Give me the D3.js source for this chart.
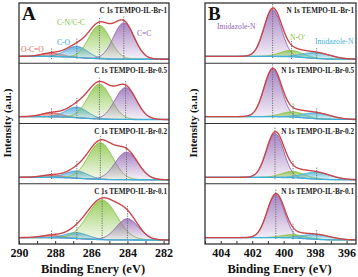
<!DOCTYPE html>
<html>
  <head>
    <meta charset="utf-8">
    <title>XPS C 1s / N 1s</title>
    <style>
      body{margin:0;background:#fff;}
      svg{font-family:"Liberation Serif","Times New Roman",serif;}
    </style>
    <script src="https://d3js.org/d3.v7.min.js"></script>
  </head>
  <body>
    <script>

        // ---- data ----
        // C 1s panel: four samples, four fitted components each
        var cTitles  = ["C 1s TEMPO-IL-Br-1", "C 1s TEMPO-IL-Br-0.5", "C 1s TEMPO-IL-Br-0.2", "C 1s TEMPO-IL-Br-0.1"];
        var cNames   = ["O-C=O", "C-O", "C-N/C-C", "C=C"];
        var cCenters = [[288.2, 286.8, 285.55, 284.2], [288.2, 286.8, 285.55, 284.1], [288.2, 286.8, 285.5, 284.05], [288.2, 286.8, 285.4, 284.0]];
        var cHeights = [[0.07, 0.23, 0.69, 0.75], [0.08, 0.22, 0.72, 0.66], [0.05, 0.15, 0.76, 0.57], [0.05, 0.12, 0.82, 0.44]];
        var cFwhm    = [[1.3, 1.4, 1.4, 1.35], [1.3, 1.4, 1.5, 1.4], [1.3, 1.4, 1.6, 1.5], [1.3, 1.5, 1.9, 1.45]];
        var cBackground = [0.06, 0.06, 0.05, 0.05];
        var cTicks = [290, 288, 286, 284, 282];

        // N 1s panel: four samples, three fitted components each
        var nTitles  = ["N 1s TEMPO-IL-Br-1", "N 1s TEMPO-IL-Br-0.5", "N 1s TEMPO-IL-Br-0.2", "N 1s TEMPO-IL-Br-0.1"];
        var nNames   = ["Imidazole-N+", "N-O\u2022", "Imidazole-N"];
        var nCenters = [[400.7, 399.5, 397.9], [400.7, 399.4, 397.9], [400.55, 399.4, 397.9], [400.5, 399.4, 397.9]];
        var nHeights = [[0.97, 0.13, 0.12], [0.98, 0.11, 0.12], [0.91, 0.13, 0.14], [0.89, 0.07, 0.1]];
        var nFwhm    = [[1.3, 1.7, 2.1], [1.3, 1.7, 2.1], [1.3, 1.7, 2.1], [1.3, 1.7, 2.1]];
        var nBackground = [0.06, 0.06, 0.05, 0.05];
        var nTicks = [404, 402, 400, 398, 396];

        // ---- styles ----
        var cColors = ["#e06a5c", "#3d9fd8", "#84c23c", "#9266b4"];
        var nColors = ["#9266b4", "#84c23c", "#46b0d6"];
        var envColor = "#c9474b";
        var bgColor = "#3fb0d8";

        var width = 358, height = 277;
        var frameTop = 3, frameBottom = 244;

        var svg = d3.select("body").append("svg")
            .attr("width", width)
            .attr("height", height);

        var defs = svg.append("defs");
        function gradient(id, color) {
            var g = defs.append("linearGradient").attr("id", id)
                .attr("x1", 0).attr("y1", 0).attr("x2", 0).attr("y2", 1);
            g.append("stop").attr("offset", "0%").attr("stop-color", color).attr("stop-opacity", 0.8);
            g.append("stop").attr("offset", "100%").attr("stop-color", color).attr("stop-opacity", 0.08);
        }
        cColors.forEach(function (c, i) { gradient("gc" + i, c); });
        nColors.forEach(function (c, i) { gradient("gn" + i, c); });

        function gauss(e, c, h, fwhm) {
            var s = fwhm / 2.3548;
            return h * Math.exp(-(e - c) * (e - c) / (2 * s * s));
        }

        function drawPanel(p) {
            var x = d3.scaleLinear().domain(p.domain).range([p.left, p.right]);
            var bands = d3.scaleBand().domain(d3.range(4)).range([frameTop, frameBottom]);
            var step = (p.domain[0] > p.domain[1] ? -0.02 : 0.02);
            var es = d3.range(p.domain[0], p.domain[1] + step, step);

            var clipId = "clip" + p.key;
            svg.append("clipPath").attr("id", clipId).append("rect")
                .attr("x", p.left).attr("y", frameTop).attr("width", p.right - p.left).attr("height", frameBottom - frameTop);

            var g = svg.append("g").attr("clip-path", "url(#" + clipId + ")");

            d3.range(4).forEach(function (k) {
                var y0 = bands(k), y1 = y0 + bands.bandwidth();
                var y = d3.scaleLinear().domain([0, 1]).range([y1 - 4, y0 + 8]);
                var bg = function (e) { return p.bg[k] / (1 + Math.exp(-(e - p.bgMid) / 0.6)); };
                var env = function (e) {
                    var s = bg(e);
                    p.centers[k].forEach(function (c, j) { s += gauss(e, c, p.heights[k][j], p.fwhm[k][j]); });
                    return s;
                };

                // components
                p.centers[k].forEach(function (c, j) {
                    var comp = function (e) { return gauss(e, c, p.heights[k][j], p.fwhm[k][j]); };
                    g.append("path").datum(es)
                        .attr("d", d3.area().x(x).y0(function (e) { return y(bg(e)); })
                            .y1(function (e) { return y(bg(e) + comp(e)); }))
                        .attr("fill", "url(#g" + p.key + j + ")");
                    g.append("path").datum(es)
                        .attr("d", d3.line().x(x).y(function (e) { return y(bg(e) + comp(e)); }))
                        .attr("fill", "none").attr("stroke", p.colors[j]).attr("stroke-width", 1);
                });

                // background line
                g.append("path").datum(es)
                    .attr("d", d3.line().x(x).y(function (e) { return y(bg(e)); }))
                    .attr("fill", "none").attr("stroke", bgColor).attr("stroke-width", 1.3);

                // dotted centre markers
                p.centers[k].forEach(function (c) {
                    g.append("line")
                        .attr("x1", x(c)).attr("x2", x(c))
                        .attr("y1", y(env(c)) - 4).attr("y2", y(0))
                        .attr("stroke", "#666").attr("stroke-width", 0.9)
                        .attr("stroke-dasharray", "1.2,1.2");
                });

                // envelope
                g.append("path").datum(es)
                    .attr("d", d3.line().x(x).y(function (e) { return y(env(e)); }))
                    .attr("fill", "none").attr("stroke", envColor).attr("stroke-width", 1.4);

                // sample title
                svg.append("text")
                    .attr("x", p.right - 2).attr("y", y0 + 10)
                    .attr("text-anchor", "end")
                    .attr("font-size", 7.2).attr("font-weight", "bold")
                    .attr("fill", "#222")
                    .text(p.titles[k]);

                if (k > 0) {
                    svg.append("line")
                        .attr("x1", p.left).attr("x2", p.right)
                        .attr("y1", y0).attr("y2", y0)
                        .attr("stroke", "#333").attr("stroke-width", 1.2);
                }
            });

            // frame
            svg.append("rect")
                .attr("x", p.left).attr("y", frameTop)
                .attr("width", p.right - p.left).attr("height", frameBottom - frameTop)
                .attr("fill", "none").attr("stroke", "#333").attr("stroke-width", 1.3);

            // x axis
            var minor = d3.range(Math.ceil(Math.min(p.domain[0], p.domain[1])), Math.max(p.domain[0], p.domain[1]) + 0.001, 1);
            svg.append("g").attr("transform", "translate(0," + frameBottom + ")")
                .call(d3.axisBottom(x).tickValues(minor).tickSizeInner(-3).tickSizeOuter(0).tickFormat(""))
                .call(function (a) { a.select(".domain").remove(); a.selectAll("line").attr("stroke", "#333"); });
            svg.append("g").attr("transform", "translate(0," + frameBottom + ")")
                .call(d3.axisBottom(x).tickValues(p.ticks).tickSize(0).tickPadding(4).tickFormat(d3.format("d")))
                .call(function (a) {
                    a.select(".domain").remove();
                    a.selectAll("text").attr("font-family", "Liberation Serif, serif")
                        .attr("font-size", 12).attr("font-weight", "bold").attr("fill", "#111");
                });

            svg.append("text")
                .attr("x", (p.left + p.right) / 2 - 1).attr("y", 273)
                .attr("text-anchor", "middle")
                .attr("font-size", 12.5).attr("font-weight", "bold").attr("fill", "#111")
                .text("Binding Enery (eV)");

            svg.append("text")
                .attr("transform", "translate(" + p.ylabelX + ",123) rotate(-90)")
                .attr("text-anchor", "middle")
                .attr("font-size", 11).attr("font-weight", "bold").attr("fill", "#111")
                .text("Intensity (a.u.)");

            svg.append("text")
                .attr("x", p.left + 3).attr("y", 20)
                .attr("font-size", 19).attr("font-weight", "bold").attr("fill", "#111")
                .text(p.letter);

            // component labels
            p.labels.forEach(function (l, j) {
                var t = svg.append("text")
                    .attr("x", l[0]).attr("y", l[1])
                    .attr("font-size", 7.6).attr("fill", p.colors[j]);
                var name = p.names[j];
                if (name.slice(-1) === "+" || name.slice(-1) === "\u2022") {
                    t.append("tspan").text(name.slice(0, -1));
                    t.append("tspan").attr("dy", -3).attr("font-size", 5).text(name.slice(-1));
                } else {
                    t.text(name);
                }
            });
        }

        drawPanel({
            key: "c", letter: "A", left: 19, right: 169, domain: [290, 281.7], ylabelX: 11,
            titles: cTitles, names: cNames, centers: cCenters, heights: cHeights, fwhm: cFwhm,
            bg: cBackground, bgMid: 286.5, ticks: cTicks, colors: cColors,
            labels: [[21, 52], [57, 45], [57, 25], [137, 36]]
        });

        drawPanel({
            key: "n", letter: "B", left: 205, right: 356, domain: [405, 395.4], ylabelX: 197,
            titles: nTitles, names: nNames, centers: nCenters, heights: nHeights, fwhm: nFwhm,
            bg: nBackground, bgMid: 398.5, ticks: nTicks, colors: nColors,
            labels: [[217, 29], [290, 40], [315, 44]]
        });

    </script>
  </body>
</html>
